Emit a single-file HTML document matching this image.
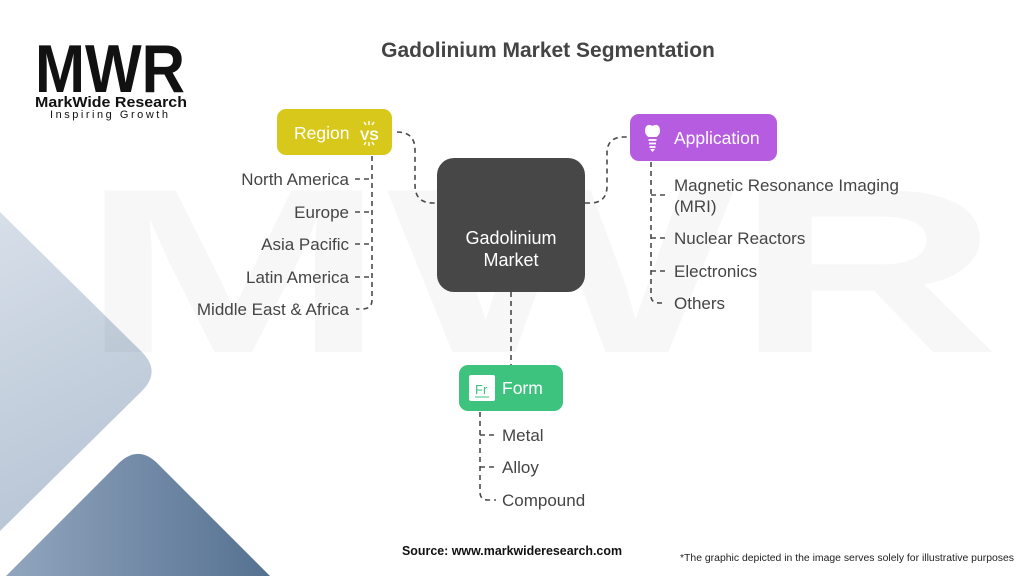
<!DOCTYPE html>
<html><head><meta charset="utf-8"><style>
html,body{margin:0;padding:0;background:#fff;width:1024px;height:576px;overflow:hidden;}
svg{display:block;}
text{font-family:"Liberation Sans",sans-serif;}
</style></head><body>
<svg width="1024" height="576" viewBox="0 0 1024 576" xmlns="http://www.w3.org/2000/svg">
<defs>
<linearGradient id="lg1" gradientUnits="userSpaceOnUse" x1="0" y1="220" x2="150" y2="520">
<stop offset="0" stop-color="#d6dee8"/><stop offset="1" stop-color="#b4c2d3"/></linearGradient>
<linearGradient id="lg2" gradientUnits="userSpaceOnUse" x1="0" y1="0" x2="270" y2="0">
<stop offset="0" stop-color="#93a7bf"/><stop offset="1" stop-color="#557191"/></linearGradient>
</defs>
<rect width="1024" height="576" fill="#fff"/>
<!-- left decorative shapes -->
<path d="M0,212 L141.7,351.7 Q161.5,371.5 141.7,391.3 L0,531 Z" fill="url(#lg1)"/>
<path d="M6,576 L118.2,463.8 Q138,444 157.8,463.8 L270,576 Z" fill="url(#lg2)"/>
<!-- watermark -->
<text x="80" y="352" font-size="235" font-weight="bold" fill="#000" fill-opacity="0.03" textLength="920" lengthAdjust="spacingAndGlyphs">MWR</text>

<!-- logo -->
<text x="35" y="92" font-size="68" font-weight="bold" fill="#111" textLength="150" lengthAdjust="spacingAndGlyphs">MWR</text>
<text x="35" y="107" font-size="15" font-weight="bold" fill="#111" textLength="152" lengthAdjust="spacingAndGlyphs">MarkWide Research</text>
<text x="50" y="118" font-size="11" fill="#111" textLength="118" lengthAdjust="spacing">Inspiring Growth</text>

<!-- title -->
<text x="548" y="57" font-size="21" font-weight="bold" fill="#444" text-anchor="middle">Gadolinium Market Segmentation</text>

<!-- connectors -->
<g fill="none" stroke="#4a4a4a" stroke-width="1.6" stroke-dasharray="5,4">
<path d="M397,132 Q415,132 415,150 L415,185 Q415,203 433,203 L437,203"/>
<path d="M585,203 L590,203 Q607,203 607,186 L607,153 Q607,137 624,137 L630,137"/>
<path d="M511,292 L511,365"/>
<path d="M372,156 L372,300 Q372,309 362,309 L356,309"/>
<path d="M355,179 L372,179 M355,212 L372,212 M355,244 L372,244 M355,277 L372,277"/>
<path d="M651,162 L651,296 Q651,303 660,303 L666,303"/>
<path d="M651,195 L666,195 M651,238 L666,238 M651,271 L666,271"/>
<path d="M480,412 L480,492 Q480,500 488,500 L496,500"/>
<path d="M480,435 L496,435 M480,467 L496,467"/>
</g>

<!-- center node -->
<rect x="437" y="158" width="148" height="134" rx="17" fill="#474747"/>
<text x="511" y="244" font-size="18" fill="#fff" text-anchor="middle">Gadolinium</text>
<text x="511" y="266" font-size="18" fill="#fff" text-anchor="middle">Market</text>

<!-- Region -->
<rect x="277" y="109" width="115" height="46" rx="9" fill="#d9c81c"/>
<text x="294" y="139" font-size="17.5" fill="#fff">Region</text>
<text x="360" y="140" font-size="14" font-weight="bold" fill="#fff">VS</text>
<g stroke="#fff" stroke-width="1.4">
<line x1="369" y1="121" x2="369" y2="125"/><line x1="364" y1="122" x2="366" y2="125"/><line x1="374" y1="122" x2="372" y2="125"/>
<line x1="369" y1="142" x2="369" y2="146"/><line x1="364" y1="145" x2="366" y2="142"/><line x1="374" y1="145" x2="372" y2="142"/>
</g>

<!-- Application -->
<rect x="630" y="114" width="147" height="47" rx="9" fill="#b55ce1"/>
<path d="M645,131 C645,124 650,124 652.5,126 C655,124 660,124 660,131 C660,135 657,136 657,137 L648,137 C648,136 645,135 645,131 Z" fill="#fff"/>
<g stroke="#fff" stroke-width="1.8"><line x1="648.5" y1="140" x2="656.5" y2="140"/><line x1="649" y1="143.5" x2="656" y2="143.5"/><line x1="649.5" y1="147" x2="655.5" y2="147"/></g>
<path d="M650,149 L655,149 L652.5,152 Z" fill="#fff"/>
<text x="674" y="144" font-size="17.5" fill="#fff">Application</text>

<!-- Form -->
<rect x="459" y="365" width="104" height="46" rx="9" fill="#3ec37f"/>
<rect x="469" y="375" width="26" height="26" rx="2" fill="#fff"/>
<text x="475" y="394" font-size="13" fill="#3ec37f">Fr</text>
<line x1="475" y1="397" x2="489" y2="397" stroke="#3ec37f" stroke-width="1"/>
<text x="502" y="394" font-size="17.5" fill="#fff">Form</text>

<!-- Region list -->
<g font-size="17" fill="#454545" text-anchor="end">
<text x="349" y="185">North America</text>
<text x="349" y="218">Europe</text>
<text x="349" y="250">Asia Pacific</text>
<text x="349" y="283">Latin America</text>
<text x="349" y="315">Middle East &amp; Africa</text>
</g>
<!-- Application list -->
<g font-size="17" fill="#454545">
<text x="674" y="191">Magnetic Resonance Imaging</text>
<text x="674" y="212">(MRI)</text>
<text x="674" y="244">Nuclear Reactors</text>
<text x="674" y="277">Electronics</text>
<text x="674" y="309">Others</text>
</g>
<!-- Form list -->
<g font-size="17" fill="#454545">
<text x="502" y="441">Metal</text>
<text x="502" y="473">Alloy</text>
<text x="502" y="506">Compound</text>
</g>

<!-- footer -->
<text x="402" y="555" font-size="12.5" font-weight="bold" fill="#111" textLength="220" lengthAdjust="spacingAndGlyphs">Source: www.markwideresearch.com</text>
<text x="680" y="561" font-size="10" fill="#222" textLength="334" lengthAdjust="spacingAndGlyphs">*The graphic depicted in the image serves solely for illustrative purposes</text>
</svg>
</body></html>
